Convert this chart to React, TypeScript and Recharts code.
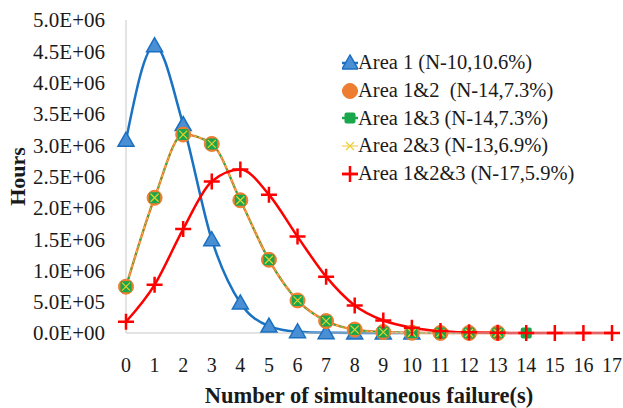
import { Line, LineChart, XAxis, YAxis } from "recharts";

const FAILURES = [0, 1, 2, 3, 4, 5, 6, 7, 8, 9, 10, 11, 12, 13, 14, 15, 16, 17];

const AREA_1 = [3080000, 4590000, 3330000, 1490000, 480000, 110000, 20000, 4000, 1000, 200, 50];
const AREA_1_2 = [740000, 2160000, 3170000, 3020000, 2120000, 1170000, 520000, 190000, 55000, 15000, 4000, 1000, 300, 80];
const AREA_1_3 = [740000, 2160000, 3170000, 3020000, 2120000, 1170000, 520000, 190000, 55000, 15000, 4000, 1000, 300, 80, 20];
const AREA_2_3 = [740000, 2160000, 3170000, 3020000, 2120000, 1170000, 520000, 190000, 55000, 15000, 4000, 1000, 300, 80];
const AREA_1_2_3 = [180000, 770000, 1660000, 2420000, 2610000, 2210000, 1540000, 900000, 440000, 200000, 85000, 30000, 10000, 3000, 1000, 300, 80, 20];

const Y_TICKS = [0, 500000, 1000000, 1500000, 2000000, 2500000, 3000000, 3500000, 4000000, 4500000, 5000000];

const SERIES = [
  { key: "a1", name: "Area 1 (N-10,10.6%)", color: "#1a72c2", marker: "triangle" },
  { key: "a12", name: "Area 1&2  (N-14,7.3%)", color: "#ed7d31", marker: "circle" },
  { key: "a13", name: "Area 1&3 (N-14,7.3%)", color: "#1aa64a", marker: "square" },
  { key: "a23", name: "Area 2&3 (N-13,6.9%)", color: "#f5c242", marker: "cross" },
  { key: "a123", name: "Area 1&2&3 (N-17,5.9%)", color: "#ff0000", marker: "plus" },
];

const data = FAILURES.map((x, i) => ({
  x,
  a1: AREA_1[i],
  a12: AREA_1_2[i],
  a13: AREA_1_3[i],
  a23: AREA_2_3[i],
  a123: AREA_1_2_3[i],
}));

const FONT = "'Liberation Serif', 'DejaVu Serif', serif";
const TEXT = "#1a1a1a";

function sci(v: number): string {
  if (v === 0) return "0.0E+00";
  const exp = Math.floor(Math.log10(v));
  const m = (v / Math.pow(10, exp)).toFixed(1);
  return `${m}E+${String(exp).padStart(2, "0")}`;
}

function Marker({ type, cx, cy }: { type: string; cx: number; cy: number }) {
  if (type === "triangle") {
    return (
      <polygon
        points={`${cx},${cy - 8} ${cx - 8},${cy + 6} ${cx + 8},${cy + 6}`}
        fill="#4a8ed3"
        stroke="#1a6fc0"
        strokeWidth={1.5}
      />
    );
  }
  if (type === "circle") {
    return <circle cx={cx} cy={cy} r={7.5} fill="#ed7d31" stroke="#ed7d31" />;
  }
  if (type === "square") {
    return <rect x={cx - 5.5} y={cy - 5.5} width={11} height={11} rx={2} fill="#1aa64a" />;
  }
  if (type === "cross") {
    return (
      <path
        d={`M${cx - 4},${cy - 4}L${cx + 4},${cy + 4}M${cx - 4},${cy + 4}L${cx + 4},${cy - 4}`}
        stroke="#e8d030"
        strokeWidth={1.2}
      />
    );
  }
  return (
    <path
      d={`M${cx - 8},${cy}L${cx + 8},${cy}M${cx},${cy - 8}L${cx},${cy + 8}`}
      stroke="#ff0000"
      strokeWidth={2.5}
    />
  );
}

function makeDot(type: string) {
  return (props: any) => {
    const { cx, cy, index, value } = props;
    if (value == null || cx == null || cy == null) return <g key={`e-${type}-${index}`} />;
    return (
      <g key={`${type}-${index}`}>
        <Marker type={type} cx={cx} cy={cy} />
      </g>
    );
  };
}

function LegendBox() {
  return (
    <div style={{ position: "absolute", left: 342, top: 49, fontFamily: FONT, fontSize: 20.5, color: TEXT }}>
      {SERIES.map((s) => (
        <div key={s.key} style={{ display: "flex", alignItems: "center", height: 27.7, whiteSpace: "pre" }}>
          <svg width={16} height={18}>
            <line x1={0} y1={9} x2={16} y2={9} stroke={s.color} strokeWidth={s.key === "a23" ? 1 : 2.5} />
            <Marker type={s.marker} cx={8} cy={9} />
          </svg>
          <span>{s.name}</span>
        </div>
      ))}
    </div>
  );
}

export default function App() {
  return (
    <div style={{ position: "relative", width: 623, height: 408 }}>
      <style>{`body{margin:0}`}</style>
      <LineChart width={623} height={408} data={data} margin={{ top: 20, right: 11, bottom: 0, left: 0 }}>
        <XAxis
          dataKey="x"
          height={75}
          stroke="#c8c8c8"
          tickLine={false}
          tickSize={0}
          tickMargin={25}
          tick={{ fill: TEXT, fontSize: 20, fontFamily: FONT }}
          interval={0}
          label={{
            value: "Number of simultaneous failure(s)",
            position: "insideBottom",
            offset: 5,
            style: { fill: TEXT, fontSize: 22.5, fontWeight: "bold", fontFamily: FONT },
          }}
        />
        <YAxis
          width={126}
          domain={[0, 5000000]}
          ticks={Y_TICKS}
          tickFormatter={sci}
          stroke="#c8c8c8"
          tickLine={false}
          tickSize={0}
          tickMargin={21}
          tick={{ fill: TEXT, fontSize: 21, fontFamily: FONT }}
          label={{
            value: "Hours",
            angle: -90,
            position: "insideLeft",
            offset: 17,
            style: { fill: TEXT, fontSize: 22, fontWeight: "bold", fontFamily: FONT, textAnchor: "middle" },
          }}
        />
        <Line type="monotone" dataKey="a1" name={SERIES[0].name} stroke="#1a72c2" strokeWidth={2.5} dot={makeDot("triangle")} activeDot={false} isAnimationActive={false} />
        <Line type="monotone" dataKey="a12" name={SERIES[1].name} stroke="#ed7d31" strokeWidth={2.5} dot={makeDot("circle")} activeDot={false} isAnimationActive={false} />
        <Line type="monotone" dataKey="a13" name={SERIES[2].name} stroke="#1aa64a" strokeWidth={1.5} strokeDasharray="4 4" dot={makeDot("square")} activeDot={false} isAnimationActive={false} />
        <Line type="monotone" dataKey="a23" name={SERIES[3].name} stroke="#f5c242" strokeWidth={1} strokeDasharray="3 2" dot={makeDot("cross")} activeDot={false} isAnimationActive={false} />
        <Line type="monotone" dataKey="a123" name={SERIES[4].name} stroke="#ff0000" strokeWidth={2.5} dot={makeDot("plus")} activeDot={false} isAnimationActive={false} />
      </LineChart>
      <LegendBox />
    </div>
  );
}
